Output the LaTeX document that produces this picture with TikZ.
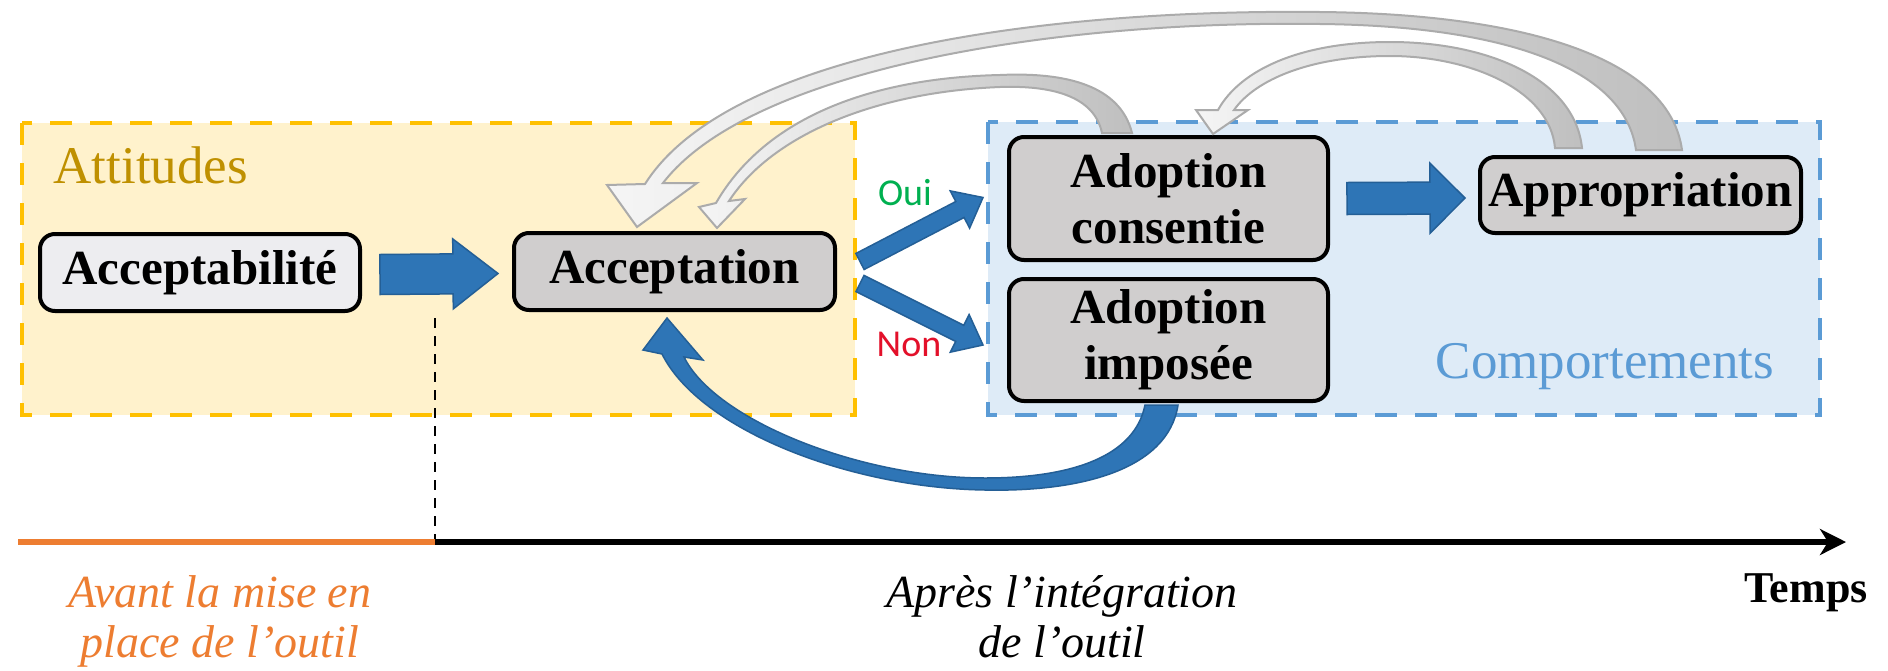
\documentclass[tikz,border=0pt]{standalone}
\usepackage{fontspec}
\setmainfont{Liberation Serif}
\newfontfamily\calib{Carlito}
\usetikzlibrary{calc,arrows.meta}
\definecolor{yfill}{HTML}{FFF2CC}
\definecolor{yline}{HTML}{FFC000}
\definecolor{bfill}{HTML}{DEEBF7}
\definecolor{bline}{HTML}{5B9BD5}
\definecolor{goldT}{HTML}{BF9000}
\definecolor{boxgray}{HTML}{D0CECE}
\definecolor{boxlight}{HTML}{EDEDF0}
\definecolor{arrblue}{HTML}{2E75B6}
\definecolor{arrblueline}{HTML}{245F96}
\definecolor{orangeT}{HTML}{ED7D31}
\definecolor{ouigreen}{HTML}{00B050}
\definecolor{nonred}{HTML}{E3102A}
\definecolor{gstroke}{HTML}{ABABAB}
\newcommand{\blockarr}[5]{%
  \path (#2) coordinate (ba-t) ($(#2)!#5!(#1)$) coordinate (ba-b);
  \draw[blockarrow] ($(#1)!#3!90:(ba-t)$) -- ($(ba-b)!#3!90:(ba-t)$) -- ($(ba-b)!#4!90:(ba-t)$) -- (ba-t)
     -- ($(ba-b)!#4!-90:(ba-t)$) -- ($(ba-b)!#3!-90:(ba-t)$) -- ($(#1)!#3!-90:(ba-t)$) -- cycle;}
\begin{document}
\begin{tikzpicture}[x=1pt,y=-1pt,
  region/.style={line width=4pt, dash pattern=on 22pt off 18pt},
  stagebox/.style={draw=black, line width=4pt, rounded corners=15pt, fill=boxgray, inner sep=0pt,
     font=\fontsize{49}{56}\selectfont\bfseries, align=center},
  blockarrow/.style={fill=arrblue, draw=arrblueline, line width=1.5pt, line join=miter},
  grayarrow/.style={draw=gstroke, line width=2pt, left color=gray!8, right color=gray!50},
  bluecurve/.style={fill=arrblue, draw=arrblueline, line width=1.5pt},
  titletext/.style={font=\fontsize{53}{60}\selectfont},
  yesno/.style={font=\calib\fontsize{38}{44}\selectfont},
  timetext/.style={font=\itshape\fontsize{46}{50}\selectfont, align=center}]
\useasboundingbox (0,0) rectangle (1888,670);
\fill[white] (0,0) rectangle (1888,670);
% regions
\draw[region, draw=yline, fill=yfill] (22,123) rectangle (855,415);
\draw[region, draw=bline, fill=bfill] (988,122) rectangle (1820,415);
\node[titletext, text=goldT, anchor=base west] (atttitle) at (50,183) {Attitudes};
\node[titletext, text=bline, anchor=base] (comptitle) at (1605,378) {Comportements};
% boxes
\node[stagebox, fill=boxlight, minimum width=320pt, minimum height=77pt] (acceptab) at (200,272.5) {Acceptabilité};
\node[stagebox, minimum width=321pt, minimum height=77pt] (accept) at (674.5,271.5) {Acceptation};
\node[stagebox, minimum width=319pt, minimum height=123pt] (consent) at (1168.5,198.5) {Adoption\\consentie};
\node[stagebox, minimum width=319pt, minimum height=122pt] (impose) at (1168.5,340) {Adoption\\imposée};
\node[stagebox, minimum width=321pt, minimum height=76pt] (approp) at (1640.5,195) {Appropriation};
% straight block arrows
\blockarr{$(acceptab.east)+(18,2)$}{$(accept.west)+(-14,2)$}{20pt}{35pt}{45pt}
\blockarr{$(consent.east)+(17,0)$}{$(approp.west)+(-13,3)$}{16pt}{35pt}{35pt}
\blockarr{$(accept.east)+(23,-10)$}{$(consent.west)+(-24,-1)$}{9pt}{21pt}{26pt}
\blockarr{$(accept.east)+(23,12)$}{$(impose.west)+(-24,5)$}{9pt}{21pt}{26pt}
\node[yesno, text=ouigreen] (oui) at (905,193) {Oui};
\node[yesno, text=nonred] (non) at (909,344) {Non};
% gray curved arrows
\draw[grayarrow] (1682,150) .. controls (1670,60) and (1530,14) .. (1320,12)
   .. controls (1050,9) and (730,50) .. (645,184) -- (607,185) -- (637,227) -- (697,183) -- (663,183)
   .. controls (750,70) and (1050,20) .. (1320,24) .. controls (1510,26) and (1625,70) .. (1636,150) -- cycle;
\draw[grayarrow] (1582,148) .. controls (1575,80) and (1490,42) .. (1390,42)
   .. controls (1300,42) and (1240,70) .. (1218,110) -- (1196,110) -- (1213,134) -- (1248,110) -- (1234,110)
   .. controls (1255,80) and (1310,56) .. (1390,56) .. controls (1470,56) and (1550,90) .. (1555,148) -- cycle;
\draw[grayarrow] (1132,133) .. controls (1120,85) and (1065,72) .. (1000,75)
   .. controls (870,78) and (765,118) .. (716,203) -- (699,207) -- (717,228) -- (745,199) -- (729,201)
   .. controls (772,135) and (875,92) .. (1000,87) .. controls (1060,85) and (1095,100) .. (1102,133) -- cycle;
% blue curved arrow
\draw[bluecurve] (1178,405) .. controls (1168,470) and (1080,492) .. (985,490)
   .. controls (850,488) and (700,430) .. (662,354) -- (643,350) -- (667,318) -- (703,360) -- (684,357)
   .. controls (715,420) and (860,478) .. (985,478) .. controls (1075,478) and (1135,455) .. (1145,405) -- cycle;
% timeline
\coordinate (tl0) at (18,542);
\coordinate (tlm) at (435,542);
\coordinate (tl1) at (1846,542);
\coordinate (dtop) at (435,318);
\draw[black, line width=2.5pt, dash pattern=on 10pt off 8pt] (dtop) -- (tlm);
\draw[orangeT, line width=6pt] (tl0) -- (tlm);
\draw[black, line width=6pt, -{Stealth[length=26pt,width=26pt,inset=8pt]}] (tlm) -- (tl1);
\node[timetext, text=orangeT, anchor=base] (avant) at (220,657) {Avant la mise en\\place de l’outil};
\node[timetext, anchor=base] (apres) at (1062,657) {Après l’intégration\\de l’outil};
\node[font=\bfseries\fontsize{44}{50}\selectfont, anchor=base] (temps) at (1806,602) {Temps};
\end{tikzpicture}
\end{document}
